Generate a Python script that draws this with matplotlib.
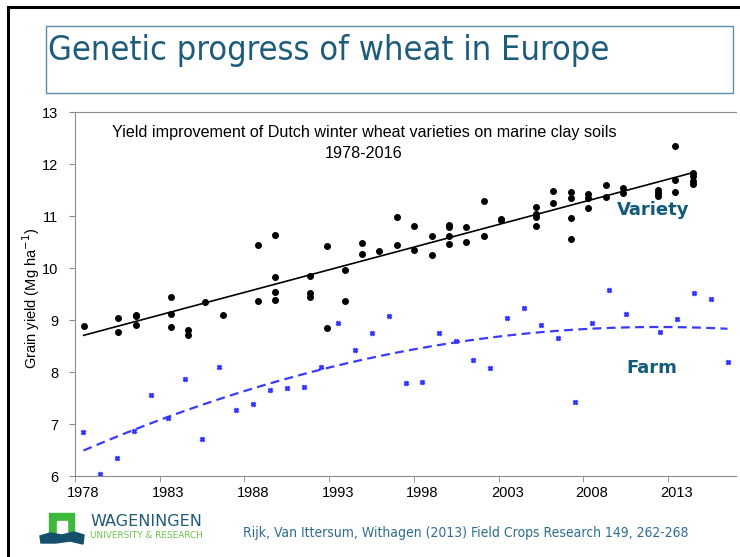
import matplotlib.pyplot as plt
import numpy as np
from matplotlib.patches import Rectangle, Polygon
from matplotlib.lines import Line2D

plt.rcParams['font.family'] = ['Liberation Sans', 'DejaVu Sans']

# Variety trials (one dot per variety), yield in Mg/ha
variety_year = [1978,
                1980, 1980,
                1981, 1981, 1981,
                1983, 1983, 1983,
                1984, 1984,
                1985, 1986,
                1988, 1988,
                1989, 1989, 1989, 1989,
                1991, 1991, 1991,
                1992, 1992,
                1993, 1993,
                1994, 1994,
                1995,
                1996, 1996,
                1997, 1997,
                1998, 1998,
                1999, 1999, 1999, 1999,
                2000, 2000,
                2001, 2001,
                2002, 2002,
                2004, 2004, 2004, 2004,
                2005, 2005,
                2006, 2006, 2006, 2006,
                2007, 2007, 2007,
                2008, 2008,
                2009, 2009,
                2011, 2011, 2011,
                2012, 2012, 2012,
                2013, 2013, 2013, 2013]
variety_yield = [8.89,
                 9.03, 8.77,
                 9.10, 9.08, 8.91,
                 9.45, 9.12, 8.86,
                 8.80, 8.72,
                 9.34, 9.10,
                 10.45, 9.37,
                 10.64, 9.82, 9.54, 9.39,
                 9.84, 9.51, 9.45,
                 10.42, 8.85,
                 9.97, 9.37,
                 10.49, 10.27,
                 10.33,
                 10.99, 10.44,
                 10.80, 10.35,
                 10.62, 10.25,
                 10.83, 10.79, 10.62, 10.47,
                 10.78, 10.50,
                 11.28, 10.62,
                 10.95, 10.92,
                 11.17, 11.03, 10.99, 10.81,
                 11.48, 11.25,
                 11.46, 11.35, 10.96, 10.56,
                 11.43, 11.35, 11.16,
                 11.60, 11.37,
                 11.53, 11.45,
                 11.50, 11.44, 11.39,
                 12.34, 11.69, 11.46,
                 11.82, 11.76, 11.68, 11.62]

# Average farm yields (2011 sits behind the "Farm" label)
farm_year = [1978, 1979, 1980, 1981, 1982, 1983, 1984, 1985, 1986, 1987,
             1988, 1989, 1990, 1991, 1992, 1993, 1994, 1995, 1996, 1997,
             1998, 1999, 2000, 2001, 2002, 2003, 2004, 2005, 2006, 2007,
             2008, 2009, 2010, 2011, 2012, 2013, 2014, 2015, 2016]
farm_yield = [6.84, 6.04, 6.35, 6.87, 7.56, 7.12, 7.86, 6.71, 8.10, 7.27,
              7.39, 7.66, 7.70, 7.72, 8.09, 8.94, 8.42, 8.75, 9.07, 7.79,
              7.81, 8.75, 8.60, 8.24, 8.08, 9.03, 9.23, 8.90, 8.66, 7.43,
              8.94, 9.57, 9.11, 8.12, 8.76, 9.02, 9.52, 9.40, 8.20]

label_years = [1978, 1983, 1988, 1993, 1998, 2003, 2008, 2013]
y_ticks = [6, 7, 8, 9, 10, 11, 12, 13]

teal = '#1d5d7b'
axis_grey = '#8c8c8c'

fig = plt.figure(figsize=(7.4, 5.57), dpi=100)

# slide frame and title box
fig.add_artist(Line2D([8/740, 8/740], [0, 1 - 7/557], color='black', lw=2.2))
fig.add_artist(Line2D([8/740, 1], [1 - 7/557, 1 - 7/557], color='black', lw=2.2))
fig.add_artist(Rectangle((46/740, 1 - 93/557), 687/740, 67/557, fill=False,
                         edgecolor='#5a8ea6', lw=1.0))
fig.text(48/740, 1 - 60/557, 'Genetic progress of wheat in Europe',
         color=teal, fontsize=24.7, family=['DejaVu Sans'], fontstretch='condensed',
         ha='left', va='baseline')

ax = fig.add_axes([75/740, 1 - 476/557, 661/740, 364/557])
ax.set_xlim(1977.5, 2016.5)
ax.set_ylim(6, 13)

# varieties sit on their own (secondary) x scale
ax2 = ax.twiny()
ax2.set_xlim(1977.5, 2015.5)
ax2.axis('off')

fit_v = np.polyfit(variety_year, variety_yield, 1)
xv = np.array([min(variety_year), max(variety_year)])
ax2.plot(xv, np.polyval(fit_v, xv), color='black', lw=1.2, zorder=2)
ax2.plot(variety_year, variety_yield, 'o', color='black', ms=4, zorder=3)

fit_f = np.polyfit(farm_year, farm_yield, 2)
xf = np.linspace(min(farm_year), max(farm_year), 200)
ax.plot(xf, np.polyval(fit_f, xf), color='#3a3aff', lw=1.6, dashes=(4, 2.4))
ax.plot(farm_year, farm_yield, 'x', color='#3333ff', ms=3.5, mew=1.8)

ax.set_yticks(y_ticks)
ax.set_xticks(label_years)
ax.set_xticks([y - 0.5 for y in label_years], minor=True)
ax.tick_params(axis='x', which='major', length=0, pad=7, labelsize=10.5)
ax.tick_params(axis='x', which='minor', length=4, color=axis_grey)
ax.tick_params(axis='y', length=4, color=axis_grey, pad=8, labelsize=10.5)
for s in ['left', 'bottom', 'top']:
    ax.spines[s].set_color(axis_grey)
ax.spines['right'].set_visible(False)

fig.text(31/740, 1 - 298/557, 'Grain yield (Mg ha$^{-1}$)', rotation=90,
         fontsize=10.5, ha='center', va='center')
fig.text(364/740, 1 - 133/557,
         'Yield improvement of Dutch winter wheat varieties on marine clay soils',
         fontsize=11.6, ha='center', va='center')
fig.text(364/740, 1 - 153/557, '1978-2016', fontsize=11.6, ha='center', va='center')

fig.text(617/740, 1 - 215/557, 'Variety', color='#135a7b', fontsize=13,
         fontweight='bold', family=['DejaVu Sans'], ha='left', va='baseline')
fig.text(626/740, 1 - 373/557, 'Farm', color='#135a7b', fontsize=13,
         fontweight='bold', family=['DejaVu Sans'], ha='left', va='baseline',
         bbox=dict(facecolor='white', edgecolor='none', pad=1))

# footer: logo and reference
lax = fig.add_axes([0, 0, 1, 1], zorder=-1)
lax.set_xlim(0, 740)
lax.set_ylim(557, 0)
lax.axis('off')
lax.add_patch(Rectangle((49, 513), 25, 23, color='#3cb83a'))
lax.add_patch(Rectangle((57, 521), 10, 15, color='white'))
lax.add_patch(Polygon([(40, 536), (50, 533), (62, 535), (74, 532), (84, 535),
                       (83, 544), (70, 541), (56, 543), (41, 543)],
                      closed=True, color='#14506b'))
fig.text(90/740, 1 - 521/557, 'WAGENINGEN', color='#1f5b76', fontsize=11.5,
         family=['DejaVu Sans'], ha='left', va='center')
fig.text(90/740, 1 - 536/557, 'UNIVERSITY & RESEARCH', color='#6cc24a', fontsize=6.4,
         family=['DejaVu Sans'], ha='left', va='center')
fig.text(243/740, 1 - 533/557,
         'Rijk, Van Ittersum, Withagen (2013) Field Crops Research 149, 262-268',
         color='#2d6e8e', fontsize=10, family=['DejaVu Sans'], fontstretch='condensed',
         ha='left', va='center')

fig.savefig('out.png', dpi=100)
